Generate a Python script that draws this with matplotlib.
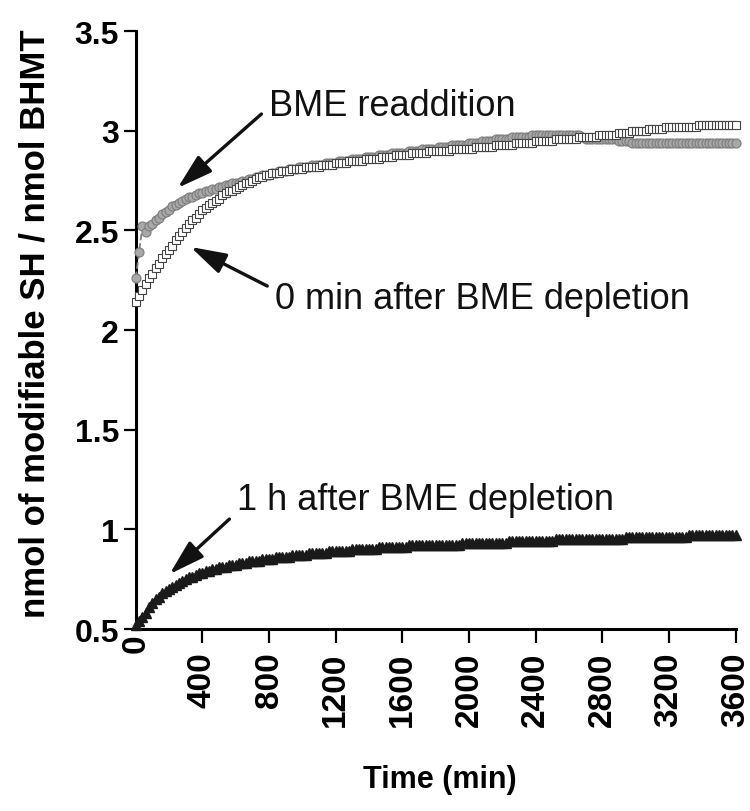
import numpy as np
import matplotlib
matplotlib.use('Agg')
import matplotlib.pyplot as plt

plt.rcParams['font.family'] = ['Liberation Sans', 'DejaVu Sans']

# one reading every 20 min, 0..3600 min
time_min = np.arange(0, 3601, 20)

# BME readdition (grey circles)
readd = [
    2.26, 2.39, 2.52, 2.49, 2.52, 2.53, 2.55, 2.56, 2.58, 2.59,
    2.60, 2.62, 2.63, 2.64, 2.65, 2.66, 2.67, 2.67, 2.68, 2.69,
    2.69, 2.70, 2.70, 2.71, 2.71, 2.72, 2.72, 2.73, 2.73, 2.74,
    2.74, 2.74, 2.75, 2.75, 2.76, 2.76, 2.77, 2.77, 2.78, 2.78,
    2.78, 2.79, 2.79, 2.80, 2.80, 2.80, 2.81, 2.81, 2.81, 2.82,
    2.82, 2.82, 2.82, 2.83, 2.83, 2.83, 2.83, 2.84, 2.84, 2.84,
    2.84, 2.85, 2.85, 2.85, 2.85, 2.86, 2.86, 2.86, 2.86, 2.87,
    2.87, 2.87, 2.87, 2.88, 2.88, 2.88, 2.88, 2.89, 2.89, 2.89,
    2.89, 2.89, 2.90, 2.90, 2.90, 2.90, 2.91, 2.91, 2.91, 2.91,
    2.91, 2.92, 2.92, 2.92, 2.92, 2.93, 2.93, 2.93, 2.93, 2.93,
    2.94, 2.94, 2.94, 2.94, 2.95, 2.95, 2.95, 2.95, 2.96, 2.96,
    2.96, 2.96, 2.96, 2.97, 2.97, 2.97, 2.97, 2.97, 2.97, 2.98,
    2.98, 2.98, 2.98, 2.98, 2.98, 2.98, 2.98, 2.98, 2.98, 2.98,
    2.98, 2.98, 2.98, 2.98, 2.97, 2.96, 2.96, 2.96, 2.96, 2.96,
    2.96, 2.96, 2.96, 2.96, 2.96, 2.95, 2.95, 2.95, 2.95, 2.94,
    2.94, 2.94, 2.94, 2.94, 2.94, 2.94, 2.94, 2.94, 2.94, 2.94,
    2.94, 2.94, 2.94, 2.94, 2.94, 2.94, 2.94, 2.94, 2.94, 2.94,
    2.94, 2.94, 2.94, 2.94, 2.94, 2.94, 2.94, 2.94, 2.94, 2.94,
    2.94,
]

# 0 min after BME depletion (open squares)
depl_0 = [
    2.14, 2.17, 2.20, 2.23, 2.26, 2.28, 2.31, 2.33, 2.36, 2.38,
    2.40, 2.42, 2.45, 2.47, 2.49, 2.51, 2.53, 2.55, 2.56, 2.58,
    2.60, 2.61, 2.63, 2.64, 2.65, 2.66, 2.68, 2.69, 2.70, 2.70,
    2.71, 2.72, 2.73, 2.74, 2.74, 2.75, 2.76, 2.77, 2.77, 2.78,
    2.78, 2.79, 2.79, 2.79, 2.80, 2.80, 2.80, 2.81, 2.81, 2.81,
    2.81, 2.82, 2.82, 2.82, 2.82, 2.82, 2.83, 2.83, 2.83, 2.83,
    2.84, 2.84, 2.84, 2.84, 2.85, 2.85, 2.85, 2.85, 2.85, 2.86,
    2.86, 2.86, 2.86, 2.86, 2.87, 2.87, 2.87, 2.87, 2.88, 2.88,
    2.88, 2.88, 2.88, 2.89, 2.89, 2.89, 2.89, 2.89, 2.90, 2.90,
    2.90, 2.90, 2.90, 2.90, 2.90, 2.91, 2.91, 2.91, 2.91, 2.91,
    2.91, 2.91, 2.92, 2.92, 2.92, 2.92, 2.92, 2.92, 2.93, 2.93,
    2.93, 2.93, 2.93, 2.93, 2.94, 2.94, 2.94, 2.94, 2.94, 2.94,
    2.95, 2.95, 2.95, 2.95, 2.95, 2.95, 2.96, 2.96, 2.96, 2.96,
    2.96, 2.96, 2.96, 2.97, 2.97, 2.97, 2.97, 2.97, 2.97, 2.98,
    2.98, 2.98, 2.98, 2.98, 2.98, 2.99, 2.99, 2.99, 2.99, 3.00,
    3.00, 3.00, 3.00, 3.00, 3.01, 3.01, 3.01, 3.01, 3.01, 3.02,
    3.02, 3.02, 3.02, 3.02, 3.02, 3.02, 3.02, 3.02, 3.02, 3.03,
    3.03, 3.03, 3.03, 3.03, 3.03, 3.03, 3.03, 3.03, 3.03, 3.03,
    3.03,
]

# 1 h after BME depletion (black triangles)
depl_1h = [
    0.52, 0.54, 0.56, 0.58, 0.61, 0.63, 0.65, 0.66, 0.68, 0.69,
    0.70, 0.71, 0.72, 0.73, 0.74, 0.75, 0.76, 0.76, 0.77, 0.78,
    0.78, 0.79, 0.79, 0.80, 0.80, 0.81, 0.81, 0.81, 0.82, 0.82,
    0.82, 0.83, 0.83, 0.83, 0.84, 0.84, 0.84, 0.84, 0.85, 0.85,
    0.85, 0.85, 0.86, 0.86, 0.86, 0.86, 0.86, 0.87, 0.87, 0.87,
    0.87, 0.87, 0.88, 0.88, 0.88, 0.88, 0.88, 0.88, 0.89, 0.89,
    0.89, 0.89, 0.89, 0.89, 0.89, 0.90, 0.90, 0.90, 0.90, 0.90,
    0.90, 0.90, 0.90, 0.91, 0.91, 0.91, 0.91, 0.91, 0.91, 0.91,
    0.91, 0.91, 0.92, 0.92, 0.92, 0.92, 0.92, 0.92, 0.92, 0.92,
    0.92, 0.92, 0.92, 0.92, 0.92, 0.92, 0.92, 0.92, 0.93, 0.93,
    0.93, 0.93, 0.93, 0.93, 0.93, 0.93, 0.93, 0.93, 0.93, 0.93,
    0.93, 0.93, 0.94, 0.94, 0.94, 0.94, 0.94, 0.94, 0.94, 0.94,
    0.94, 0.94, 0.94, 0.94, 0.94, 0.94, 0.95, 0.95, 0.95, 0.95,
    0.95, 0.95, 0.95, 0.95, 0.95, 0.95, 0.95, 0.95, 0.95, 0.95,
    0.95, 0.95, 0.95, 0.95, 0.95, 0.95, 0.95, 0.96, 0.96, 0.96,
    0.96, 0.96, 0.96, 0.96, 0.96, 0.96, 0.96, 0.96, 0.96, 0.96,
    0.96, 0.96, 0.96, 0.96, 0.96, 0.96, 0.97, 0.97, 0.97, 0.97,
    0.97, 0.97, 0.97, 0.97, 0.97, 0.97, 0.97, 0.97, 0.97, 0.97,
    0.97,
]

xticks = [0, 400, 800, 1200, 1600, 2000, 2400, 2800, 3200, 3600]
yticks = [0.5, 1, 1.5, 2, 2.5, 3, 3.5]
ytick_labels = ['0.5', '1', '1.5', '2', '2.5', '3', '3.5']

fig = plt.figure(figsize=(7.5, 8.12), dpi=100)
ax = fig.add_axes([0.181, 0.224, 0.800, 0.7365])

ax.plot(time_min, readd, ls='--', color='#808080', lw=1.3, marker='o', ms=6.5,
        mfc='#a8a8a8', mec='#7c7c7c', mew=0.8, clip_on=False, zorder=3)
ax.plot(time_min, depl_0, ls='none', marker='s', ms=6, mfc='white',
        mec='#444444', mew=0.8, clip_on=False, zorder=4)
ax.plot(time_min, depl_1h, ls='none', marker='^', ms=7, color='#1a1a1a',
        clip_on=False, zorder=5)

ax.set_xlim(0, 3600)
ax.set_ylim(0.5, 3.5)
for s in ['top', 'right']:
    ax.spines[s].set_visible(False)
for s in ['left', 'bottom']:
    ax.spines[s].set_linewidth(2.2)

ax.set_yticks(yticks)
ax.set_yticklabels(ytick_labels)
ax.set_xticks(xticks)
ax.set_xticklabels([''] + [str(v) for v in xticks[1:]], rotation=90)
ax.xaxis.get_major_ticks()[0].tick1line.set_visible(False)

ax.tick_params(axis='y', length=8.5, width=1.6, pad=3.5, labelsize=23)
ax.tick_params(axis='x', length=10, width=1.6, pad=6, labelsize=24)
for lbl in ax.get_xticklabels() + ax.get_yticklabels():
    lbl.set_fontweight('bold')

# the "0" sits right under the axis in the original
ax.annotate('0', xy=(0, 0.5), xytext=(0, -3), textcoords='offset points',
            ha='center', va='top', rotation=90, fontsize=24, fontweight='bold',
            annotation_clip=False)

fig.text(440 / 750, 1 - 780 / 812, 'Time (min)', ha='center', va='center',
         fontsize=22, fontweight='bold')
fig.text(35 / 750, 1 - 324 / 812, 'nmol of modifiable SH / nmol BHMT',
         ha='center', va='center', rotation=90, fontsize=25, fontweight='bold')

# arrows and labels
arrow = dict(arrowstyle='-|>,head_length=0.6,head_width=0.18', lw=2.4,
             color='#111111', mutation_scale=36, shrinkA=0, shrinkB=0)
ax.annotate('', xy=(251, 2.713), xytext=(754, 3.084), arrowprops=arrow)
ax.text(801, 3.129, 'BME readdition', fontsize=26, va='center', ha='left',
        color='#111111')
ax.annotate('', xy=(329, 2.417), xytext=(789, 2.221), arrowprops=arrow)
ax.text(837, 2.156, '0 min after BME depletion', fontsize=26, va='center',
        ha='left', color='#111111')
ax.annotate('', xy=(203, 0.776), xytext=(562, 1.052), arrowprops=arrow)
ax.text(610, 1.152, '1 h after BME depletion', fontsize=26, va='center',
        ha='left', color='#111111')

plt.savefig('out.png', dpi=100)
